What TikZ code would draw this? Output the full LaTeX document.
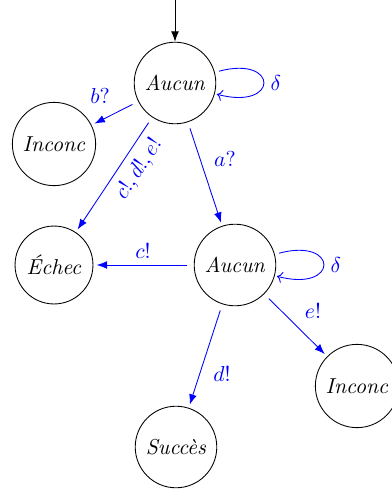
\documentclass[tikz,border=0pt]{standalone}
\usetikzlibrary{arrows.meta}
\begin{document}
\begin{tikzpicture}[x=0.463pt, y=-0.463pt,
  state/.style={circle, draw, inner sep=3.5pt},
  tr/.style={blue, -Latex, shorten <=3pt, shorten >=1.5pt},
  lp/.style={blue, ->, shorten <=2pt, shorten >=2pt},
  lab/.style={blue}]
\useasboundingbox (0,0) rectangle (391,490);
\node[state] (a1) at (175,83) {\textit{Aucun}};
\node[state] (i1) at (54,144) {\textit{Inconc}};
\node[state] (e) at (54,265) {\textit{Échec}};
\node[state] (a2) at (235,265) {\textit{Aucun}};
\node[state] (i2) at (357,386) {\textit{Inconc}};
\node[state] (s) at (176,447) {\textit{Succès}};
\coordinate (start) at (175,0);
\draw[-Latex] (start) -- (a1);
\draw[tr] (a1) -- (i1);
\draw[tr] (a1) -- (e);
\draw[tr] (a1) -- (a2);
\draw[tr] (a2) -- (e);
\draw[tr] (a2) -- (s);
\draw[tr] (a2) -- (i2);
\path (a1) edge[lp, loop right] node[lab, right] (d1) {$\delta$} (a1);
\path (a2) edge[lp, loop right] node[lab, right] (d2) {$\delta$} (a2);
\node[lab] (lb) at (100,96) {$b?$};
\node[lab, rotate=56.7] (lcde) at (139,169) {$c!, d!, e!$};
\node[lab] (la) at (225,159) {$a?$};
\node[lab] (lc) at (143,251) {$c!$};
\node[lab] (le) at (313,311) {$e!$};
\node[lab] (ld) at (222,374) {$d!$};
\end{tikzpicture}
\end{document}
